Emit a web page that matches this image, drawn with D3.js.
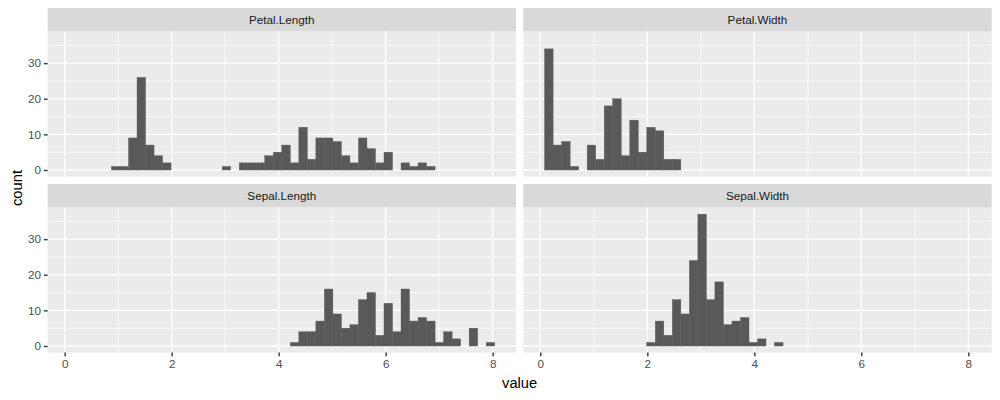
<!DOCTYPE html>
<html>
<head>
<meta charset="utf-8">
<script src="https://cdn.jsdelivr.net/npm/d3@7"></script>
<style>
  body { margin: 0; background: #fff; }
  svg { display: block; font-family: "Liberation Sans", Arial, sans-serif; }
</style>
</head>
<body>
<svg width="1000" height="400"></svg>
<script>
// histogram of iris measurements, 50 bins over the common range 0.1 .. 7.9
var valueMin = 0.1, valueMax = 7.9, nBins = 50;

var facets = ["Petal.Length", "Petal.Width", "Sepal.Length", "Sepal.Width"];

var petalLength = [0,0,0,0,0, 1,1,9,26,7, 4,2,0,0,0, 0,0,0,1,0,
                   2,2,2,4,5, 7,2,12,3,9, 9,8,4,2,9, 6,2,5,0,2,
                   1,2,1,0,0, 0,0,0,0,0];
var petalWidth  = [34,7,8,1,0, 7,3,18,20,4, 14,5,12,11,3, 3,0,0,0,0,
                   0,0,0,0,0, 0,0,0,0,0, 0,0,0,0,0, 0,0,0,0,0,
                   0,0,0,0,0, 0,0,0,0,0];
var sepalLength = [0,0,0,0,0, 0,0,0,0,0, 0,0,0,0,0, 0,0,0,0,0,
                   0,0,0,0,0, 0,1,4,4,7, 16,9,5,6,13, 15,3,12,4,16,
                   7,8,7,1,4, 2,0,5,0,1];
var sepalWidth  = [0,0,0,0,0, 0,0,0,0,0, 0,0,1,7,3, 13,9,24,37,13,
                   18,6,7,8,1, 2,0,1,0,0, 0,0,0,0,0, 0,0,0,0,0,
                   0,0,0,0,0, 0,0,0,0,0];
var counts = [petalLength, petalWidth, sepalLength, sepalWidth];

var xTicks = [0, 2, 4, 6, 8], xMinor = [1, 3, 5, 7];
var yTicks = [0, 10, 20, 30], yMinor = [5, 15, 25, 35];

// ggplot-style bins: boundary at half a bin width
var binWidth = (valueMax - valueMin) / (nBins - 1);
var boundary = binWidth / 2;
var origin = boundary + Math.floor((valueMin - boundary) / binWidth) * binWidth;
var edges = d3.range(nBins + 1).map(function(k) { return origin + k * binWidth; });

var svg = d3.select("svg");

var left = 47.6, right = 991.7, gap = 7.3;
var panelW = (right - left - gap) / 2;
var stripH = 23.6;
var rows = [{top: 8}, {top: 184}];
var panelH = 145;

// shared scales (with ggplot's 5% expansion)
var xlo = edges[0], xhi = edges[nBins];
var xpad = (xhi - xlo) * 0.05;
var ymax = d3.max(counts, function(c) { return d3.max(c); });
var ypad = ymax * 0.05;

facets.forEach(function(name, i) {
  var col = i % 2, row = Math.floor(i / 2);
  var px = left + col * (panelW + gap);
  var sy = rows[row].top;
  var py = sy + stripH;

  var x = d3.scaleLinear().domain([xlo - xpad, xhi + xpad]).range([px, px + panelW]);
  var y = d3.scaleLinear().domain([-ypad, ymax + ypad]).range([py + panelH, py]);

  var g = svg.append("g");

  // strip
  g.append("rect").attr("x", px).attr("y", sy).attr("width", panelW).attr("height", stripH)
    .attr("fill", "#D9D9D9");
  g.append("text").attr("x", px + panelW / 2).attr("y", sy + stripH / 2 + 4)
    .attr("text-anchor", "middle").attr("font-size", "11.7px").attr("fill", "#1A1A1A")
    .text(name);

  // panel background and grid
  g.append("rect").attr("x", px).attr("y", py).attr("width", panelW).attr("height", panelH)
    .attr("fill", "#EBEBEB");
  g.selectAll(".xmin").data(xMinor).enter().append("line")
    .attr("x1", function(d) { return x(d); }).attr("x2", function(d) { return x(d); })
    .attr("y1", py).attr("y2", py + panelH)
    .attr("stroke", "#fff").attr("stroke-width", 0.7);
  g.selectAll(".ymin").data(yMinor).enter().append("line")
    .attr("y1", function(d) { return y(d); }).attr("y2", function(d) { return y(d); })
    .attr("x1", px).attr("x2", px + panelW)
    .attr("stroke", "#fff").attr("stroke-width", 0.7);
  g.selectAll(".xmaj").data(xTicks).enter().append("line")
    .attr("x1", function(d) { return x(d); }).attr("x2", function(d) { return x(d); })
    .attr("y1", py).attr("y2", py + panelH)
    .attr("stroke", "#fff").attr("stroke-width", 1.4);
  g.selectAll(".ymaj").data(yTicks).enter().append("line")
    .attr("y1", function(d) { return y(d); }).attr("y2", function(d) { return y(d); })
    .attr("x1", px).attr("x2", px + panelW)
    .attr("stroke", "#fff").attr("stroke-width", 1.4);

  // bars
  var bins = counts[i].map(function(c, k) { return {x0: edges[k], x1: edges[k + 1], n: c}; })
    .filter(function(b) { return b.n > 0; });
  g.selectAll(".bar").data(bins).enter().append("rect")
    .attr("x", function(d) { return x(d.x0); })
    .attr("width", function(d) { return x(d.x1) - x(d.x0); })
    .attr("y", function(d) { return y(d.n); })
    .attr("height", function(d) { return y(0) - y(d.n); })
    .attr("fill", "#595959")
    .attr("stroke", "#595959").attr("stroke-width", 0.4);

  // axes: y on the left column, x on the bottom row
  if (col === 0) {
    var ya = g.append("g").attr("transform", "translate(" + px + ",0)")
      .call(d3.axisLeft(y).tickValues(yTicks).tickSize(3.7).tickPadding(3));
    ya.select(".domain").remove();
    ya.selectAll("line").attr("stroke", "#333333").attr("stroke-width", 1.4);
    ya.selectAll("text").attr("fill", "#4D4D4D").attr("font-size", "11.7px")
      .attr("font-family", "Liberation Sans, Arial, sans-serif");
  }
  if (row === 1) {
    var xa = g.append("g").attr("transform", "translate(0," + (py + panelH) + ")")
      .call(d3.axisBottom(x).tickValues(xTicks).tickSize(3.7).tickPadding(3));
    xa.select(".domain").remove();
    xa.selectAll("line").attr("stroke", "#333333").attr("stroke-width", 1.4);
    xa.selectAll("text").attr("fill", "#4D4D4D").attr("font-size", "11.7px")
      .attr("font-family", "Liberation Sans, Arial, sans-serif");
  }
});

// axis titles
svg.append("text").attr("x", (left + right) / 2).attr("y", 388)
  .attr("text-anchor", "middle").attr("font-size", "14.7px").attr("fill", "#000")
  .text("value");
svg.append("text").attr("transform", "translate(22,188) rotate(-90)")
  .attr("text-anchor", "middle").attr("font-size", "14.7px").attr("fill", "#000")
  .text("count");
</script>
</body>
</html>
